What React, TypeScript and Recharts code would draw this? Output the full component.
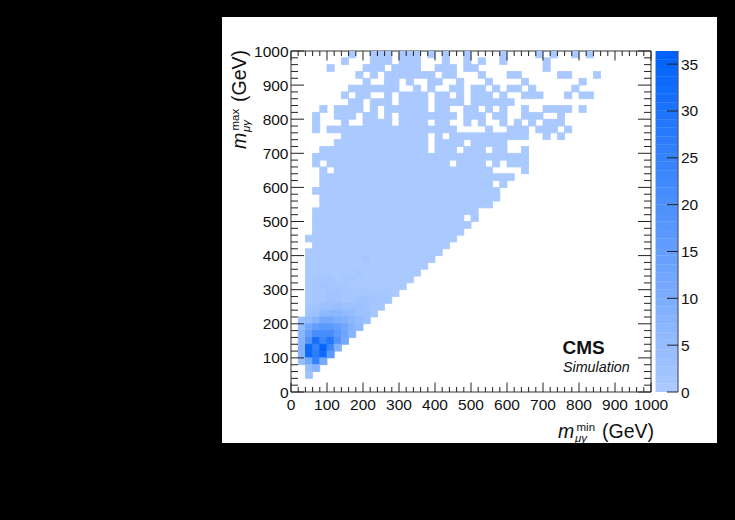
import React from "react";
import { ScatterChart, Scatter, XAxis, YAxis, BarChart, Bar } from "recharts";

const axisTicks = [0,20,40,60,80,100,120,140,160,180,200,220,240,260,280,300,320,340,360,380,400,420,440,460,480,500,520,540,560,580,600,620,640,660,680,700,720,740,760,780,800,820,840,860,880,900,920,940,960,980,1000];
const colorbarTicks = [0,5,10,15,20,25,30,35];
const zMax = 36.4;
const bandCount = 40;
const lowColor = [170, 201, 255];
const highColor = [0, 98, 250];

// Occupied bins, row 0 = top of the plot (980-1000 GeV), as [firstColumn, lastColumn] spans of 20 GeV bins.
const occupiedSpans: number[][][] = [
  [[8,8],[11,13],[15,17],[19,19],[21,21],[24,24],[29,29],[34,34],[36,36],[39,39],[41,41]],
  [[7,7],[11,13],[15,17],[21,21],[24,24],[26,26],[29,29],[35,35]],
  [[5,5],[10,12],[14,17],[20,22],[24,25],[35,35]],
  [[9,9],[11,11],[13,19],[21,22],[26,26],[30,31],[37,38],[42,42]],
  [[10,10],[13,14],[16,16],[19,20],[23,23],[27,27],[32,32],[40,40]],
  [[8,14],[17,17],[19,19],[22,23],[25,26],[28,28],[30,31],[33,33],[39,39]],
  [[7,7],[9,10],[13,13],[15,18],[20,21],[23,23],[25,27],[29,29],[32,34],[38,38],[40,41]],
  [[8,9],[11,13],[15,18],[20,23],[25,30]],
  [[4,4],[6,9],[11,11],[13,18],[20,21],[24,25],[27,27],[29,29],[32,32],[35,38],[40,40]],
  [[3,3],[6,8],[10,11],[13,13],[15,22],[24,26],[28,29],[32,34],[37,37]],
  [[3,3],[7,7],[10,13],[15,18],[20,21],[24,24],[26,26],[29,29],[31,31],[33,33],[35,37]],
  [[3,3],[5,22],[27,27],[30,32],[34,36],[38,38]],
  [[7,18],[20,20],[22,32],[35,35],[37,37]],
  [[6,18],[20,23],[25,29]],
  [[4,18],[20,22],[24,26],[28,29],[32,32]],
  [[3,32]],
  [[3,3],[5,21],[23,26],[28,28],[30,32]],
  [[4,4],[6,27],[32,32]],
  [[4,30]],
  [[4,27],[29,29]],
  [[3,28]],
  [[4,28]],
  [[4,27]],
  [[3,25]],
  [[3,23],[25,25]],
  [[3,24]],
  [[3,23]],
  [[2,22]],
  [[3,21]],
  [[2,20]],
  [[2,19]],
  [[2,18]],
  [[2,17]],
  [[2,16]],
  [[2,15]],
  [[2,14]],
  [[2,13]],
  [[2,12]],
  [[2,11]],
  [[1,10]],
  [[1,9]],
  [[1,8]],
  [[1,7]],
  [[1,6]],
  [[1,5]],
  [[1,4]],
  [[2,3]],
  [[2,2]],
];

// Bin contents above the base level: [row, firstColumn, ...values].
const hotBins: number[][] = [
  [30, 10, 2],
  [32, 9, 2],
  [33, 3, 2,2,2,1,2,2],
  [34, 3, 2,3,2,2,2,1],
  [35, 3, 2,2,3,3,2,2,2,2,2,2,2,1],
  [36, 2, 1,2,2,3,3,2,2,3,3,3,2,2],
  [37, 2, 2,3,4,4,5,4,4,4,3,2,2],
  [38, 2, 3,4,7,8,8,7,6,4,4,2],
  [39, 1, 4,6,9,12,12,11,10,8,6,4],
  [40, 1, 6,12,16,18,18,16,13,10,7],
  [41, 1, 8,16,22,22,22,18,14,9],
  [42, 1, 9,20,32,24,30,20,12],
  [43, 1, 10,34,26,36,24,10],
  [44, 1, 9,34,28,34,18],
  [45, 1, 5,12,26,12],
  [46, 2, 5,9],
  [47, 2, 3],
];

const binW = 7.2;
const binH = 6.82;
const ink = "#222";
const fontFamily = "'Liberation Sans', Arial, sans-serif";

const bandColor = (b: number) => {
  const t = b / (bandCount - 1);
  const [r, g, bl] = lowColor.map((c, i) => Math.round(c + (highColor[i] - c) * t));
  return `rgb(${r},${g},${bl})`;
};
const valueColor = (v: number) => bandColor(Math.min(bandCount - 1, Math.floor(((v - 1) / zMax) * bandCount)));

const hotLookup = new Map<string, number>();
hotBins.forEach(([row, start, ...vals]) => vals.forEach((v, i) => hotLookup.set(`${row}:${start + i}`, v)));

const cells: { x: number; y: number; z: number }[] = [];
occupiedSpans.forEach((spans, row) =>
  spans.forEach(([a, b]) => {
    for (let c = a; c <= b; c++) {
      cells.push({ x: c * 20 + 10, y: 1000 - row * 20 - 10, z: hotLookup.get(`${row}:${c}`) ?? 1 });
    }
  })
);

const barRow: Record<string, number | string> = { name: "z" };
for (let i = 0; i < bandCount; i++) barRow[`b${i}`] = zMax / bandCount;
const barData = [barRow];

const CellShape = (p: any) => {
  const fill = valueColor(p.payload.z);
  return <rect x={p.cx - binW / 2} y={p.cy - binH / 2} width={binW} height={binH} fill={fill} stroke={fill} strokeWidth={0.8} />;
};

const BottomTick = ({ x, y, payload }: any) => {
  const major = payload.value % 100 === 0;
  return (
    <g>
      <line x1={x} x2={x} y1={y} y2={y - (major ? 9.5 : 5)} stroke={ink} />
      {major && <text x={x} y={y + 18} textAnchor="middle" fontSize={15.5} fontFamily={fontFamily} fill="#111">{payload.value}</text>}
    </g>
  );
};
const TopTick = ({ x, payload }: any) => (
  <line x1={x} x2={x} y1={51} y2={51 + (payload.value % 100 === 0 ? 9.5 : 5)} stroke={ink} />
);
const LeftTick = ({ x, y, payload }: any) => {
  const major = payload.value % 100 === 0;
  return (
    <g>
      <line x1={x} x2={x + (major ? 13 : 7)} y1={y} y2={y} stroke={ink} />
      {major && <text x={x - 2.5} y={y + 5.5} textAnchor="end" fontSize={15.5} fontFamily={fontFamily} fill="#111">{payload.value}</text>}
    </g>
  );
};
const RightTick = ({ y, payload }: any) => (
  <line x1={651} x2={651 - (payload.value % 100 === 0 ? 13 : 7)} y1={y} y2={y} stroke={ink} />
);
const BarTick = ({ y, payload }: any) => (
  <g>
    <line x1={678} x2={667} y1={y} y2={y} stroke={ink} />
    <text x={681} y={y + 5.5} fontSize={15.5} fontFamily={fontFamily} fill="#111">{payload.value}</text>
  </g>
);

const AxisTitle = ({ x, y, rotate, sup, gevDx }: { x: number; y: number; rotate?: boolean; sup: string; gevDx: number }) => (
  <g transform={rotate ? `rotate(-90 ${x} ${y})` : undefined} fontFamily={fontFamily} fill="#111">
    <text x={x} y={y} fontSize={19.5} fontStyle="italic">m</text>
    <text x={x + 18.5} y={y - 7.5} fontSize={11.5}>{sup}</text>
    <text x={x + 17} y={y + 3.5} fontSize={11.5} fontStyle="italic">μγ</text>
    <text x={x + gevDx} y={y} fontSize={19.5}>(GeV)</text>
  </g>
);

export default function App() {
  return (
    <div style={{ position: "fixed", left: 0, top: 0, width: 735, height: 520, background: "#000", overflow: "hidden" }}>
      <div style={{ position: "absolute", left: 222, top: 17, width: 495, height: 426, background: "#fff" }} />
      <div style={{ position: "absolute", left: 0, top: 0 }}>
        <BarChart width={735} height={520} data={barData} margin={{ top: 51, right: 56, bottom: 128, left: 655.7 }} barCategoryGap={0}>
          <XAxis dataKey="name" hide />
          <YAxis orientation="right" width={1} domain={[0, zMax]} ticks={colorbarTicks} interval={0} tickSize={0} tickMargin={0} tick={BarTick} axisLine={{ stroke: "#335" }} tickLine={false} allowDataOverflow />
          {Array.from({ length: bandCount }, (_, i) => (
            <Bar key={i} dataKey={`b${i}`} stackId="z" fill={bandColor(i)} stroke={bandColor(i)} strokeWidth={0.3} isAnimationActive={false} />
          ))}
        </BarChart>
      </div>
      <div style={{ position: "absolute", left: 0, top: 0 }}>
        <ScatterChart width={735} height={520} margin={{ top: 50, right: 83, bottom: 0, left: 222 }}>
          <XAxis type="number" dataKey="x" xAxisId="bottom" orientation="bottom" height={128} domain={[0, 1000]} ticks={axisTicks} interval={0} tickSize={0} tickMargin={0} tick={BottomTick} axisLine={{ stroke: "#333" }} tickLine={false} allowDataOverflow />
          <XAxis type="number" dataKey="x" xAxisId="top" orientation="top" height={1} domain={[0, 1000]} ticks={axisTicks} interval={0} tickSize={0} tickMargin={0} tick={TopTick} axisLine={{ stroke: "#333" }} tickLine={false} allowDataOverflow />
          <YAxis type="number" dataKey="y" yAxisId="left" orientation="left" width={69} domain={[0, 1000]} ticks={axisTicks} interval={0} tickSize={0} tickMargin={0} tick={LeftTick} axisLine={{ stroke: "#333" }} tickLine={false} allowDataOverflow />
          <YAxis type="number" dataKey="y" yAxisId="right" orientation="right" width={1} domain={[0, 1000]} ticks={axisTicks} interval={0} tickSize={0} tickMargin={0} tick={RightTick} axisLine={{ stroke: "#333" }} tickLine={false} allowDataOverflow />
          <Scatter data={cells} xAxisId="bottom" yAxisId="left" shape={CellShape} isAnimationActive={false} />
        </ScatterChart>
      </div>
      <svg width={735} height={520} style={{ position: "absolute", left: 0, top: 0, pointerEvents: "none" }}>
        <AxisTitle x={558} y={438} sup="min" gevDx={44} />
        <AxisTitle x={246} y={149} rotate sup="max" gevDx={47} />
        <text x={562.5} y={354} fontSize={19} fontWeight="bold" fontFamily={fontFamily} fill="#111">CMS</text>
        <text x={563} y={372} fontSize={14.3} fontStyle="italic" fontFamily={fontFamily} fill="#111">Simulation</text>
      </svg>
    </div>
  );
}
